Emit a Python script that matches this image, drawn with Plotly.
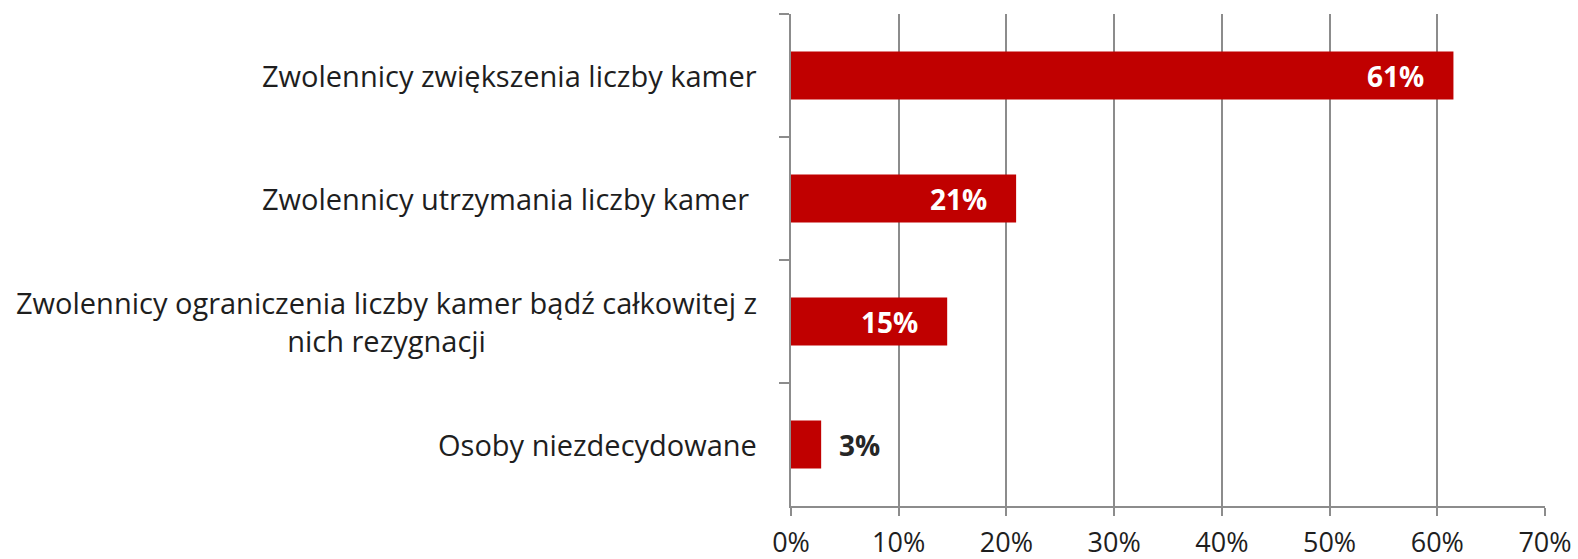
import plotly.graph_objects as go

categories = [
    "Zwolennicy zwiększenia liczby kamer",
    "Zwolennicy utrzymania liczby kamer ",
    "Zwolennicy ograniczenia liczby kamer bądź całkowitej z<br>nich rezygnacji",
    "Osoby niezdecydowane",
]
values = [61.5, 20.9, 14.5, 2.8]
labels = ["61%", "21%", "15%", "3%"]
tick_vals = [0, 10, 20, 30, 40, 50, 60, 70]
tick_text = ["0%", "10%", "20%", "30%", "40%", "50%", "60%", "70%"]

FONT = "Open Sans"
RED = "#C00000"
GRID = "#8c8c8c"

fig = go.Figure(go.Bar(
    x=values, y=categories, orientation="h",
    marker=dict(color=RED, line=dict(width=0)),
    width=0.39, hoverinfo="skip",
))

# data labels: white inside the long bars, dark outside the short one
for cat, v, lab in zip(categories, values, labels):
    inside = v > 10
    fig.add_annotation(
        x=v, y=cat, xref="x", yref="y", text="<b>%s</b>" % lab,
        showarrow=False, xanchor="right" if inside else "left",
        xshift=-27 if inside else 16,
        font=dict(family=FONT, size=28, color="white" if inside else "#262626"),
    )

# category labels, centred lines like the original
for cat in categories:
    fig.add_annotation(
        x=0, y=cat, xref="paper", yref="y", text=cat, showarrow=False,
        xanchor="right", xshift=-32, align="center",
        font=dict(family=FONT, size=29, color="#1e1e1e"),
    )

fig.update_layout(
    width=1578, height=559,
    margin=dict(l=791, r=33, t=14, b=53),
    plot_bgcolor="white", paper_bgcolor="white",
    showlegend=False,
    font=dict(family=FONT, size=27, color="#1e1e1e"),
)
fig.update_xaxes(
    range=[0, 70], tickvals=tick_vals, ticktext=tick_text,
    showgrid=True, gridcolor=GRID, gridwidth=2,
    showline=True, linecolor=GRID, linewidth=2,
    ticks="outside", ticklen=8, tickwidth=2, tickcolor=GRID,
    ticklabelstandoff=4, zeroline=False, automargin=False,
)
fig.update_yaxes(
    autorange="reversed", showticklabels=False,
    showline=True, linecolor=GRID, linewidth=2,
    ticks="outside", tickson="boundaries", ticklen=10, tickwidth=2, tickcolor=GRID,
    showgrid=False, automargin=False,
)

fig.write_html("out.html", config={"displayModeBar": False},
               post_script="document.body.style.margin='0';")
